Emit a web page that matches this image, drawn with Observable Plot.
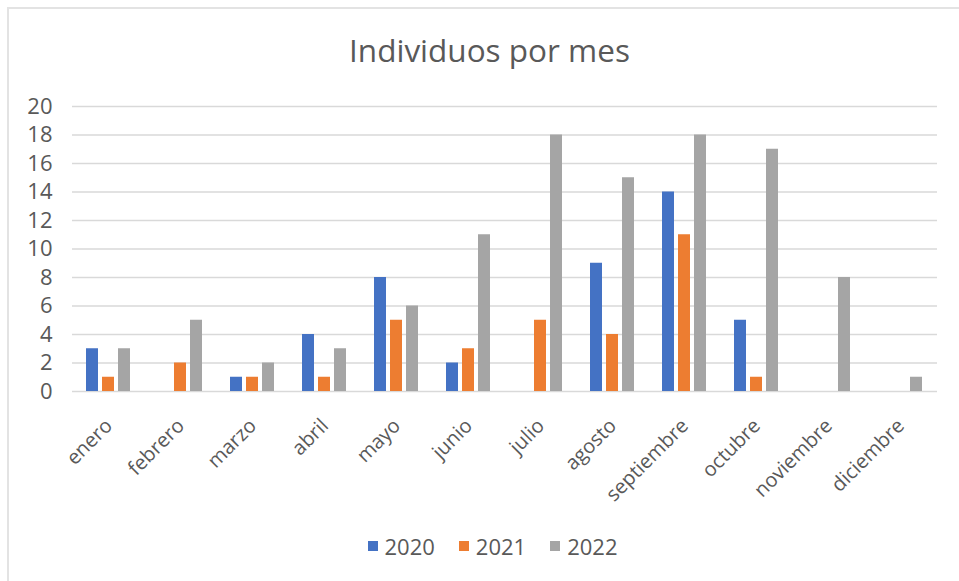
<!DOCTYPE html>
<html>
<head>
<meta charset="utf-8">
<script src="https://cdn.jsdelivr.net/npm/d3@7"></script>
<script src="https://cdn.jsdelivr.net/npm/@observablehq/plot@0.6"></script>
<style>
  html, body { margin: 0; padding: 0; background: #fff; }
  #wrap { position: relative; width: 959px; height: 581px; overflow: hidden; font-family: "Open Sans", sans-serif; color: #595959; }
  #frame { position: absolute; left: 7px; top: 7px; width: 990px; height: 600px; border-left: 2px solid #e3e3e3; border-top: 2px solid #e3e3e3; }
  #title { position: absolute; left: 0; width: 979px; top: 28px; text-align: center; font-size: 31.5px; }
  .layer { position: absolute; left: 0; top: 80px; }
  #legend { position: absolute; left: 0; width: 985px; top: 531px; display: flex; justify-content: center; gap: 24px; font-size: 22px; }
  .item { display: flex; align-items: center; gap: 7px; }
  .sw { width: 10px; height: 10px; display: inline-block; }
</style>
</head>
<body>
<div id="wrap">
  <div id="frame"></div>
  <div id="title">Individuos por mes</div>
  <div id="grid" class="layer"></div>
  <div id="chart" class="layer"></div>
  <div id="legend"></div>
</div>
<script>
const months = ["enero","febrero","marzo","abril","mayo","junio","julio","agosto","septiembre","octubre","noviembre","diciembre"];
const years = ["2020","2021","2022"];
const colors = ["#4472C4","#ED7D31","#A5A5A5"];
const v2020 = [3, 0, 1, 4, 8, 2, 0, 9, 14, 5, 0, 0];
const v2021 = [1, 2, 1, 1, 5, 3, 5, 4, 11, 1, 0, 0];
const v2022 = [3, 5, 2, 3, 6, 11, 18, 15, 18, 17, 8, 1];
const yTicks = [0, 2, 4, 6, 8, 10, 12, 14, 16, 18, 20];

const series = [v2020, v2021, v2022];
const data = [];
months.forEach((m, i) => years.forEach((y, j) => data.push({month: m, year: y, value: series[j][i]})));

const top0 = 80;
const common = {
  width: 959,
  height: 450,
  marginTop: 106 - top0,
  marginBottom: 450 - (391 - top0),
  marginLeft: 72,
  marginRight: 22,
  style: {fontFamily: "Open Sans, sans-serif", fontSize: "20px", color: "#595959", background: "transparent"}
};

// background layer: gridlines and y axis across the full plot width
const grid = Plot.plot({
  ...common,
  y: {domain: [0, 20], label: null},
  marks: [
    Plot.gridY(yTicks, {stroke: "#d9d9d9", strokeOpacity: 1, strokeWidth: 1.5}),
    Plot.axisY(yTicks, {tickSize: 0, tickPadding: 20, label: null, fontSize: 22})
  ]
});
document.getElementById("grid").appendChild(grid);

// bars layer: grouped bars per month
const chart = Plot.plot({
  ...common,
  fx: {domain: months, paddingInner: 0.375, paddingOuter: 0.19, label: null},
  x: {domain: years, paddingInner: 0.22, paddingOuter: 0, axis: null},
  y: {domain: [0, 20], axis: null},
  color: {domain: years, range: colors},
  marks: [
    Plot.axisFx({anchor: "bottom", tickRotate: -45, tickSize: 0, tickPadding: 12, label: null, fontSize: 20, dx: 0, dy: 19}),
    Plot.barY(data, {fx: "month", x: "year", y: "value", fill: "year"})
  ]
});
document.getElementById("chart").appendChild(chart);

const legend = document.getElementById("legend");
years.forEach((y, i) => {
  const it = document.createElement("div");
  it.className = "item";
  const sw = document.createElement("span");
  sw.className = "sw";
  sw.style.background = colors[i];
  const t = document.createElement("span");
  t.textContent = y;
  it.appendChild(sw); it.appendChild(t);
  legend.appendChild(it);
});
</script>
</body>
</html>
